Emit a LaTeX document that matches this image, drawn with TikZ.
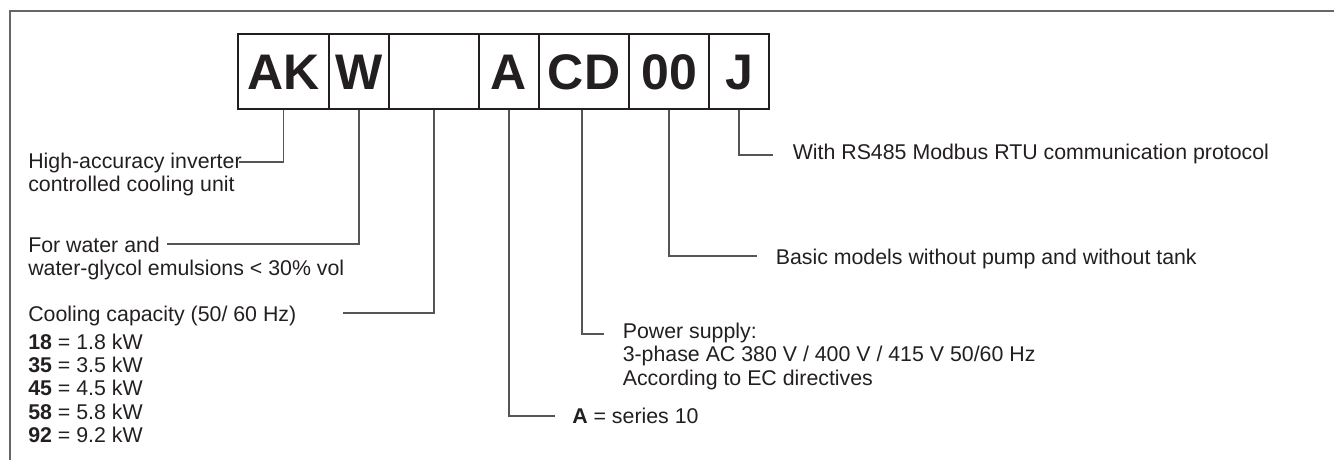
\documentclass[tikz,border=0pt]{standalone}
\usepackage{fontspec}
\setmainfont{Liberation Sans}
\definecolor{txt}{HTML}{231F20}
\definecolor{framec}{HTML}{666666}
\definecolor{leadc}{HTML}{555555}
\begin{document}
\begin{tikzpicture}[x=0.75pt,y=-0.75pt,
  codebox/.style={draw=txt,line width=0.8pt,minimum width=#1,minimum height=56.25pt,inner sep=0pt,
    font=\fontsize{37.5}{40}\selectfont\bfseries,text=txt,text height=26.9pt,text depth=0pt},
  lbl/.style={anchor=base west,inner sep=0pt,font=\fontsize{16}{18}\selectfont,text=txt},
  leader/.style={draw=leadc,line width=1.1pt},
  framel/.style={draw=framec,line width=1.5pt}]
\useasboundingbox (0,0) rectangle (1334,460);
% frame
\draw[framel] (10,462) -- (10,11) -- (1336,11);
% code boxes
\node[codebox=68.25pt] (ak) at (283.5,71.5) {AK};
\node[codebox=45pt]    (w)  at (359,71.5) {W};
\node[codebox=67.5pt]  (bl) at (434,71.5) {};
\node[codebox=45pt]    (a)  at (509,71.5) {A};
\node[codebox=67.5pt]  (cd) at (584,71.5) {CD};
\node[codebox=60pt]    (zz) at (669,71.5) {00};
\node[codebox=45pt]    (j)  at (739,71.5) {J};
% left labels
\node[lbl] (t1a) at (28,168) {High-accuracy inverter};
\node[lbl] (t1b) at (28,191.5) {controlled cooling unit};
\node[lbl] (t2a) at (28,252.5) {For water and};
\node[lbl] (t2b) at (28,275.5) {water-glycol emulsions < 30\% vol};
\node[lbl] (t3)  at (28,321.5) {Cooling capacity (50/ 60 Hz)};
\node[lbl] (t3a) at (28,349) {\textbf{18} = 1.8 kW};
\node[lbl] (t3b) at (28,372.4) {\textbf{35} = 3.5 kW};
\node[lbl] (t3c) at (28,395.8) {\textbf{45} = 4.5 kW};
\node[lbl] (t3d) at (28,419.2) {\textbf{58} = 5.8 kW};
\node[lbl] (t3e) at (28,442.6) {\textbf{92} = 9.2 kW};
% right labels
\node[lbl] (t4)  at (572,423) {\textbf{A} = series 10};
\node[lbl] (t5a) at (622.5,338) {Power supply:};
\node[lbl] (t5b) at (622.5,361.5) {3-phase AC 380 V / 400 V / 415 V 50/60 Hz};
\node[lbl] (t5c) at (622.5,385) {According to EC directives};
\node[lbl] (t6)  at (775.5,264) {Basic models without pump and without tank};
\node[lbl] (t7)  at (792.5,159) {With RS485 Modbus RTU communication protocol};
% leader end points
\coordinate (e1) at (239,162);
\coordinate (e2) at (167,244);
\coordinate (e3) at (343,313);
\coordinate (e4) at (555,416);
\coordinate (e5) at (604,334);
\coordinate (e6) at (757,256);
\coordinate (e7) at (773,155);
% leaders
\draw[leader] (ak.south) |- (e1);
\draw[leader] (w.south)  |- (e2);
\draw[leader] (bl.south) |- (e3);
\draw[leader] (a.south)  |- (e4);
\draw[leader] ([xshift=-1.5pt]cd.south) |- (e5);
\draw[leader] (zz.south) |- (e6);
\draw[leader] (j.south)  |- (e7);
\end{tikzpicture}
\end{document}
